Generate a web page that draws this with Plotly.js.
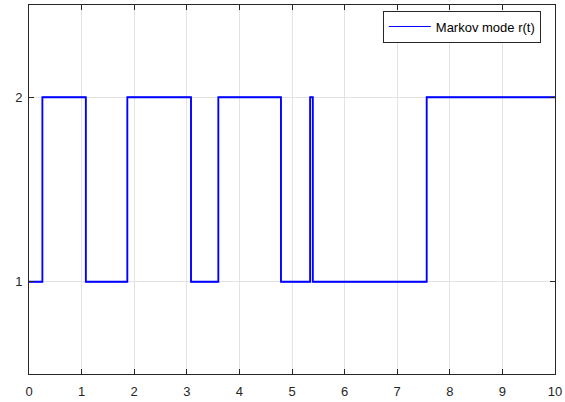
<!DOCTYPE html>
<html>
<head>
<meta charset="utf-8">
<script src="https://cdn.plot.ly/plotly-3.0.1.min.js"></script>
<style>html,body{margin:0;padding:0;background:#fff}#chart{width:565px;height:402px}</style>
</head>
<body>
<div id="chart"></div>
<script>
const switchTimes = [0, 0.255, 1.08, 1.87, 3.08, 3.60, 4.79, 5.345, 5.395, 7.56, 10];
const modeValues  = [1, 2, 1, 2, 1, 2, 1, 2, 1, 2, 2];
const seriesName = 'Markov mode r(t)';
const xTicks = [0,1,2,3,4,5,6,7,8,9,10];
const yTicks = [1,2];

const fontFam = 'Liberation Sans, Arial, Helvetica, sans-serif';
const axisCommon = {
  showgrid: true, gridcolor: '#e3e3e3', gridwidth: 1,
  showline: true, linecolor: '#262626', linewidth: 1, mirror: 'ticks',
  ticks: 'inside', ticklen: 5, tickcolor: '#262626', tickwidth: 1,
  zeroline: false,
  tickfont: {family: fontFam, size: 13, color: '#262626'}
};

Plotly.newPlot('chart', [
  {
    x: switchTimes, y: modeValues, type: 'scatter', mode: 'lines',
    line: {shape: 'hv', color: '#0000ff', width: 1},
    name: seriesName, showlegend: true
  },
  {
    x: switchTimes, y: modeValues, type: 'scatter', mode: 'lines',
    line: {shape: 'hv', color: '#0000ff', width: 1.8},
    name: seriesName, showlegend: false
  }
], {
  width: 565, height: 402,
  margin: {l: 29, r: 10, t: 5, b: 28},
  paper_bgcolor: '#fff', plot_bgcolor: '#fff',
  showlegend: true,
  legend: {
    x: 0.973, y: 0.985, xanchor: 'right', yanchor: 'top',
    bgcolor: '#fff', bordercolor: '#262626', borderwidth: 1,
    font: {family: fontFam, size: 13, color: '#000'},
    itemwidth: 42,
    tracegroupgap: 0
  },
  xaxis: Object.assign({}, axisCommon, {range: [0, 10], tickvals: xTicks, ticktext: xTicks.map(String), ticklabelstandoff: 5}),
  yaxis: Object.assign({}, axisCommon, {range: [0.5, 2.5], tickvals: yTicks, ticktext: yTicks.map(String), ticklabelstandoff: 3})
}, {staticPlot: true, displayModeBar: false});
</script>
</body>
</html>
